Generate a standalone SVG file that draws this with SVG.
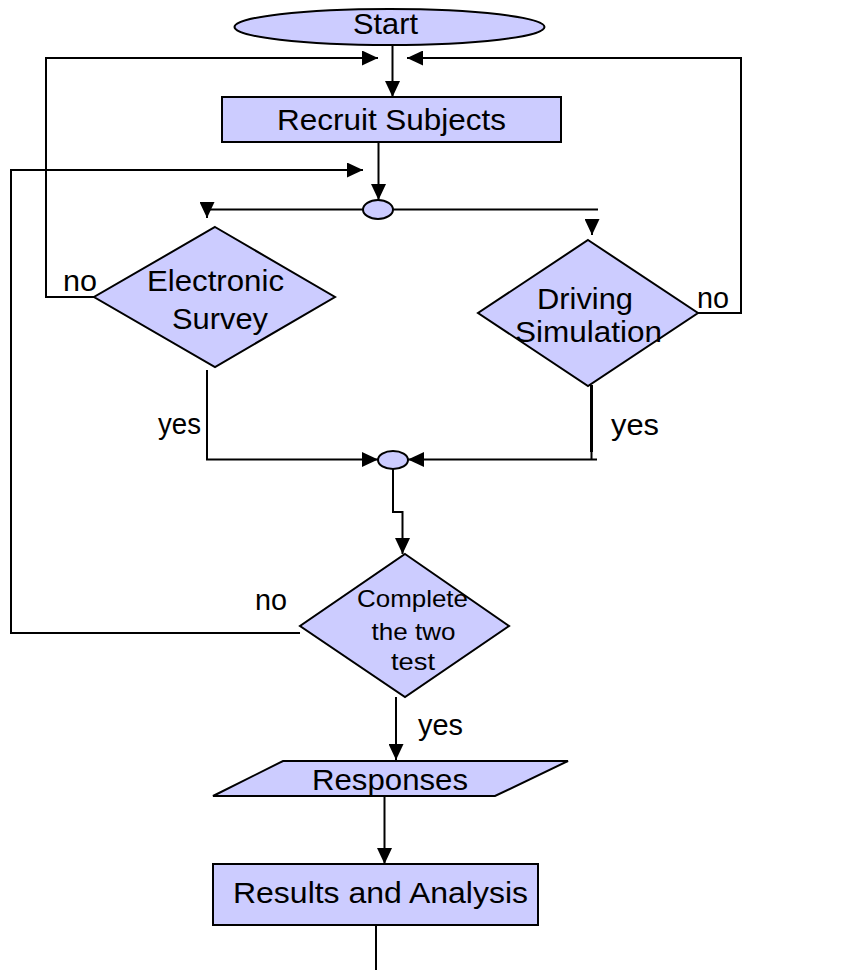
<svg xmlns="http://www.w3.org/2000/svg" width="844" height="970" viewBox="0 0 844 970">
<defs>
<style>
.shape{fill:#CCCCFF;stroke:#000;stroke-width:2}
.conn{fill:none;stroke:#000;stroke-width:2}
.t{font-family:"Liberation Sans",Arial,sans-serif;font-size:29px;fill:#000}
.s{font-size:24px}
</style>
<marker id="arr" viewBox="0 0 16 15" refX="16" refY="7.5" markerWidth="16" markerHeight="15" markerUnits="userSpaceOnUse" orient="auto">
<path d="M0,0 L16,7.5 L0,15 z" fill="#000"/>
</marker>
</defs>
<rect width="844" height="970" fill="#fff"/>
<g id="connectors">
<path class="conn" d="M392.5 45 V97" marker-end="url(#arr)"/>
<path class="conn" d="M378.5 142 V200" marker-end="url(#arr)"/>
<path class="conn" d="M363 209.5 H207 V218" marker-end="url(#arr)"/>
<path class="conn" d="M393 209.5 H598"/>
<path class="conn" d="M592 220 V235" marker-end="url(#arr)"/>
<path class="conn" d="M94 297 H46 V58 H378" marker-end="url(#arr)"/>
<path class="conn" d="M698 313 H741 V58 H407" marker-end="url(#arr)"/>
<path class="conn" d="M300 633 H11 V170 H363" marker-end="url(#arr)"/>
<path class="conn" d="M207 370 V459.5 H378" marker-end="url(#arr)"/>
<path class="conn" d="M591.5 385 V452" style="stroke-width:3"/>
<path class="conn" d="M591.5 452 V459.5 M597 459.5 H408" marker-end="url(#arr)"/>
<path class="conn" d="M393 469 V512 H402.5 V554" marker-end="url(#arr)"/>
<path class="conn" d="M396 697 V760" marker-end="url(#arr)"/>
<path class="conn" d="M384.5 796 V864" marker-end="url(#arr)"/>
<path class="conn" d="M376 925 V970"/>
</g>
<g id="start">
<ellipse class="shape" cx="389.5" cy="27" rx="155" ry="18"/>
<text class="t" x="353" y="34" textLength="65" lengthAdjust="spacingAndGlyphs">Start</text>
</g>
<g id="recruit">
<rect class="shape" x="222" y="97" width="339" height="45"/>
<text class="t" x="277" y="129.5" textLength="229" lengthAdjust="spacingAndGlyphs">Recruit Subjects</text>
</g>
<g id="junction1">
<ellipse class="shape" cx="378" cy="209.5" rx="15" ry="9.5"/>
</g>
<g id="electronic">
<polygon class="shape" points="215,227 335,297 215,367 94,297"/>
<text class="t" x="147" y="291" textLength="137" lengthAdjust="spacingAndGlyphs">Electronic</text>
<text class="t" x="172" y="328.5" textLength="96" lengthAdjust="spacingAndGlyphs">Survey</text>
</g>
<g id="driving">
<polygon class="shape" points="588,240 698,313 588,386 478,313"/>
<text class="t" x="537" y="309" textLength="96" lengthAdjust="spacingAndGlyphs">Driving</text>
<text class="t" x="515" y="342" textLength="147" lengthAdjust="spacingAndGlyphs">Simulation</text>
</g>
<g id="junction2">
<ellipse class="shape" cx="393" cy="460" rx="15" ry="9"/>
</g>
<g id="complete">
<polygon class="shape" points="405,554 509,626 405,697 300,626"/>
<text class="t s" x="357" y="607" textLength="111" lengthAdjust="spacingAndGlyphs">Complete</text>
<text class="t s" x="371.5" y="640" textLength="84" lengthAdjust="spacingAndGlyphs">the two</text>
<text class="t s" x="391" y="670" textLength="44" lengthAdjust="spacingAndGlyphs">test</text>
</g>
<g id="responses">
<polygon class="shape" points="283,761 568,761 495,796 213,796"/>
<text class="t" x="312" y="790" textLength="156" lengthAdjust="spacingAndGlyphs">Responses</text>
</g>
<g id="results">
<rect class="shape" x="213" y="864" width="325" height="61"/>
<text class="t" x="233" y="903" textLength="295" lengthAdjust="spacingAndGlyphs">Results and Analysis</text>
</g>
<g id="labels">
<text class="t" x="63" y="291" textLength="34" lengthAdjust="spacingAndGlyphs">no</text>
<text class="t" x="697" y="308" textLength="32" lengthAdjust="spacingAndGlyphs">no</text>
<text class="t" x="255" y="610" textLength="32" lengthAdjust="spacingAndGlyphs">no</text>
<text class="t" x="158" y="434" textLength="43" lengthAdjust="spacingAndGlyphs">yes</text>
<text class="t" x="611" y="435" textLength="48" lengthAdjust="spacingAndGlyphs">yes</text>
<text class="t" x="418" y="735" textLength="45" lengthAdjust="spacingAndGlyphs">yes</text>
</g>
</svg>
